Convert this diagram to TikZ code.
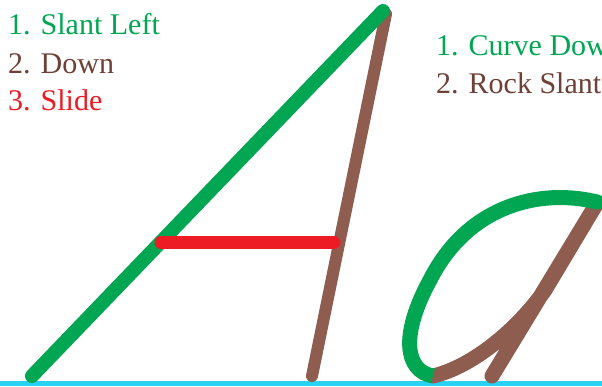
\documentclass[tikz,border=0pt]{standalone}
\usepackage{fontspec}
\setmainfont{Liberation Serif}
\usetikzlibrary{positioning}
\definecolor{slantGreen}{HTML}{00A651}
\definecolor{downBrown}{HTML}{8E5D50}
\definecolor{labelBrown}{HTML}{6E4036}
\definecolor{slideRed}{HTML}{ED1C24}
\definecolor{baseCyan}{HTML}{2AD2F2}
\tikzset{steplabel/.style={anchor=base west, inner sep=0pt,
                           font=\fontsize{30}{36}\selectfont}}

\begin{document}
\begin{tikzpicture}[x=1pt, y=-1pt]
    \useasboundingbox (0,0) rectangle (602,386);
    \clip (0,0) rectangle (602,386);
    \fill[white] (0,0) rectangle (602,386);
    % baseline
    \fill[baseCyan] (0,381) rectangle (602,386);
    % capital A
    \draw[downBrown, line width=12, line cap=round] (386,14) -- (312,376);
    \draw[slantGreen, line width=14, line cap=round] (32,376) -- (383,11);
    \draw[slideRed, line width=13, line cap=round] (161,242.5) -- (334,242.5);
    % small a
    \draw[downBrown, line width=15, line cap=round, line join=round]
        (433,376) .. controls (475,366) and (520,326) .. (545,290)
        -- (597,203) -- (492,376);
    \draw[slantGreen, line width=15]
        (597,202) .. controls (540,188) and (468,205) .. (430,280)
        .. controls (400,335) and (405,371) .. (433,376);
    \fill[slantGreen] (597,202) circle (7.5);
    % labels
    \node[steplabel, text=slantGreen] (slantLeft) at (8,34) {1. Slant Left};
    \node[steplabel, text=labelBrown] (down) at (8,73) {2. Down};
    \node[steplabel, text=slideRed] (slide) at (8,110) {3. Slide};
    \node[steplabel, text=slantGreen] (curveDown) at (436,55) {1. Curve Down};
    \node[steplabel, text=labelBrown] (rockSlant) at (436,93) {2. Rock Slant};
\end{tikzpicture}
\end{document}
